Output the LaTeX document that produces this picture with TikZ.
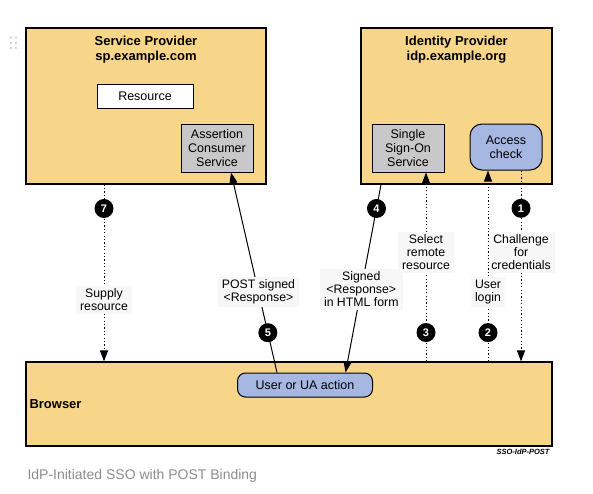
\documentclass[tikz,border=0pt]{standalone}
\usepackage{fontspec}
\setmainfont{Liberation Sans}
\usetikzlibrary{arrows.meta,positioning}
\definecolor{boxfill}{RGB}{247,213,137}
\definecolor{actfill}{RGB}{166,184,226}
\definecolor{svcfill}{RGB}{200,200,200}
\definecolor{capgray}{RGB}{140,140,140}
\begin{document}
\begin{tikzpicture}[x=1pt, y=-1pt, line width=1pt,
		party/.style = {draw, fill=boxfill, line width=1.2pt, inner sep=0pt},
		svc/.style = {draw, fill=svcfill, align=center, inner sep=0pt, font=\fontsize{12.5}{14.3}\selectfont},
		act/.style = {draw, fill=actfill, align=center, inner sep=0pt, font=\fontsize{12.5}{14.3}\selectfont},
		title/.style = {align=center, inner sep=0pt, font=\bfseries\fontsize{13}{15}\selectfont},
		num/.style = {circle, fill=black, text=white, minimum size=19pt, inner sep=0pt, font=\bfseries\fontsize{11}{11}\selectfont},
		lbl/.style = {fill=black!3, align=center, inner xsep=4pt, inner ysep=3pt, font=\fontsize{12.3}{13}\selectfont},
		flow/.style = {-{Triangle[length=11pt,width=8pt]}},
		dotline/.style = {dash pattern=on 1.2pt off 2.2pt}]
		\useasboundingbox (0,0) rectangle (593,493);
		% drag handle
		\foreach \dx in {11,16}
			\foreach \dy in {37.5,43,48}
				\fill[black!22] (\dx,\dy) circle (1.2pt);
		% parties
		\node[party, minimum width=240pt, minimum height=156pt] (sp) at (146,106) {};
		\node[party, minimum width=191pt, minimum height=156pt] (idp) at (456.5,106) {};
		\node[party, minimum width=526pt, minimum height=84pt] (browser) at (289,404) {};
		\node[title, below=8pt of sp.north] (sptitle) {Service Provider\\sp.example.com};
		\node[title, below=8pt of idp.north] (idptitle) {Identity Provider\\idp.example.org};
		\node[title, anchor=west] (browsertitle) at (29,404) {Browser};
		% services
		\node[svc, fill=white, minimum width=96pt, minimum height=24pt] (res) at (145,96) {Resource};
		\node[svc, minimum width=72pt, minimum height=48pt] (acs) at (217,148) {Assertion\\Consumer\\Service};
		\node[svc, minimum width=72pt, minimum height=48pt] (sso) at (408,148) {Single\\Sign-On\\Service};
		\node[act, rounded corners=12pt, minimum width=72pt, minimum height=46pt] (access) at (506,147) {Access\\check};
		\node[act, rounded corners=8pt, minimum width=135pt, minimum height=24pt] (ua) at (305,385) {User or UA action};
		% flows
		\coordinate (c1) at (521,0);
		\coordinate (c2) at (488,0);
		\coordinate (c3) at (426,0);
		\coordinate (c4) at (381,0);
		\coordinate (c4b) at (345.5,0);
		\coordinate (c5) at (277,0);
		\coordinate (c5b) at (231,0);
		\coordinate (c7) at (104,0);
		\draw[flow, dotline] (c1 |- access.south) -- (c1 |- browser.north)
			node[num, pos=0.198] (n1) {1}
			node[lbl, pos=0.427] (l1) {Challenge\\for\\credentials};
		\draw[flow, dotline] (c2 |- browser.north) -- (c2 |- access.south)
			node[num, pos=0.151] (n2) {2}
			node[lbl, pos=0.365] (l2) {User\\login};
		\draw[flow, dotline] (c3 |- browser.north) -- (c3 |- sso.south)
			node[num, pos=0.153] (n3) {3}
			node[lbl, pos=0.579] (l3) {Select\\remote\\resource};
		\draw[flow] (c4 |- idp.south) -- (c4b |- ua.north)
			node[num, pos=0.127] (n4) {4}
			node[lbl, pos=0.556] (l4) {Signed\\<Response>\\in HTML form};
		\draw[flow] (c5 |- ua.north) -- (c5b |- acs.south)
			node[num, pos=0.199] (n5) {5}
			node[lbl, pos=0.403] (l5) {POST signed\\<Response>};
		\draw[flow, dotline] (c7 |- sp.south) -- (c7 |- browser.north)
			node[num, pos=0.135] (n7) {7}
			node[lbl, pos=0.652] (l7) {Supply\\resource};
		% tag and caption
		\node[anchor=east, inner sep=0pt, font=\bfseries\itshape\fontsize{7.5}{8}\selectfont] (tag) at (550,452) {SSO-IdP-POST};
		\node[anchor=west, inner sep=0pt, text=capgray, font=\fontsize{14}{16}\selectfont] (caption) at (27,476) {IdP-Initiated SSO with POST Binding};
	\end{tikzpicture}
\end{document}
